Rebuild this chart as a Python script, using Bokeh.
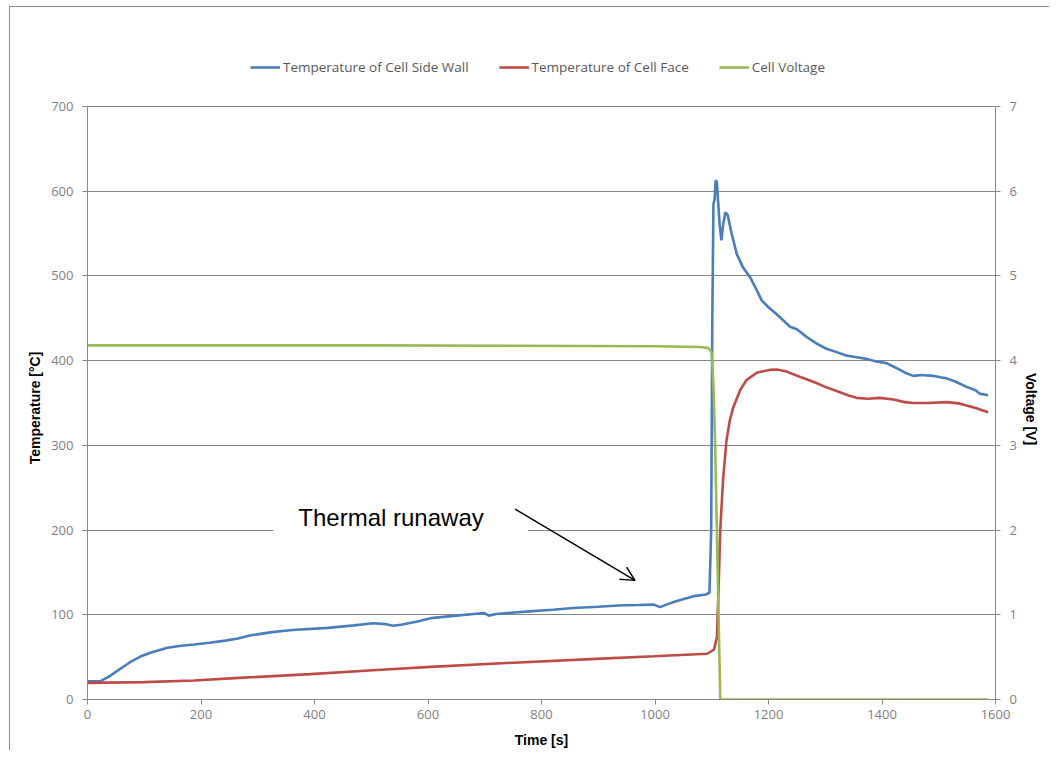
import math
from bokeh.plotting import figure
from bokeh.models import (Range1d, LinearAxis, Legend, LegendItem, Label, Arrow,
                          OpenHead, BoxAnnotation, FixedTicker, InlineStyleSheet)
from bokeh.embed import file_html
from bokeh.resources import INLINE

# ---------------- data ----------------
side_t = [0, 23, 40, 55, 75, 94, 115, 141, 165, 188, 215, 243, 265, 290, 325, 361,
          424, 470, 503, 525, 538, 555, 581, 605, 650, 690, 699, 707, 720, 778, 820,
          856, 900, 935, 970, 998, 1009, 1020, 1037, 1068, 1090, 1096, 1099, 1101,
          1103, 1105, 1107, 1109, 1111, 1114, 1117, 1120, 1124, 1128, 1135, 1144,
          1155, 1167, 1178, 1188, 1200, 1214, 1238, 1250, 1267, 1285, 1302, 1320,
          1337, 1355, 1373, 1390, 1408, 1426, 1440, 1455, 1470, 1490, 1505, 1514,
          1530, 1549, 1565, 1572, 1587]
side_v = [21.6, 21.6, 28, 35, 44, 51, 56, 61, 63.5, 65, 67, 69.5, 72, 76, 79.5, 82,
          84.5, 87.5, 90, 89, 87, 88.5, 92, 96, 99, 101.5, 102, 99, 101, 104, 106,
          108, 109.5, 111, 111.5, 112, 109, 112, 116, 122, 124, 126, 200, 450,
          585, 590, 613, 610, 590, 560, 542, 560, 575, 572, 550, 526,
          510, 499, 485, 471, 463, 455, 440, 437, 428, 420, 414, 410,
          406, 404, 402, 399, 397, 391, 386, 382, 383, 382, 380, 379,
          375, 369, 365, 361, 359]

face_t = [0, 100, 188, 267, 393, 503, 605, 738, 896, 998, 1092, 1104, 1109, 1112,
          1115, 1120, 1126, 1132, 1138, 1150, 1161, 1180, 1202, 1215, 1232, 1255,
          1279, 1300, 1320, 1340, 1355, 1375, 1396, 1420, 1440, 1455, 1480, 1514,
          1535, 1549, 1565, 1587]
face_v = [19.6, 20.5, 22.5, 25.5, 30, 34.5, 38.5, 43, 48, 51, 54, 59, 73, 130,
          200, 260, 306, 330, 345, 365, 377, 386, 389, 389.5, 387, 381,
          375, 369, 364, 359, 356, 355, 356, 354, 351, 350, 350, 351,
          349.5, 347, 344, 339]

volt_t = [0, 500, 1000, 1080, 1093, 1098, 1100, 1103, 1106, 1109, 1112, 1115, 1587]
volt_v = [4.18, 4.18, 4.17, 4.16, 4.15, 4.12, 4.09, 3.7, 3.0, 2.0, 1.0, 0.0, 0.0]

temp_ticks = [0, 100, 200, 300, 400, 500, 600, 700]
volt_ticks = [0, 1, 2, 3, 4, 5, 6, 7]
time_ticks = [0, 200, 400, 600, 800, 1000, 1200, 1400, 1600]

series_names = ["Temperature of Cell Side Wall", "Temperature of Cell Face", "Cell Voltage"]
series_colors = ["#4A7EBB", "#BE4B48", "#98B954"]

# ---------------- layout ----------------
W, H = 1049, 750
FRAME_TOP, FRAME_BOTTOM = 46, 700          # frame reaches up to hold the legend
AXIS_TOP = 106                              # where 700 / 7 V sit
T_MAX, V_MAX = 700, 7
scale = (FRAME_BOTTOM - FRAME_TOP) / (FRAME_BOTTOM - AXIS_TOP)
t_hi = T_MAX * scale
v_hi = V_MAX * scale
NB = "\u00a0"  # keeps the axis titles centred on the 0..700 span rather than the taller frame

p = figure(width=W, height=H, output_backend="svg", toolbar_location=None,
           x_range=Range1d(0, 1600), y_range=Range1d(0, t_hi),
           min_border_left=87, min_border_right=53, min_border_top=FRAME_TOP,
           min_border_bottom=H - FRAME_BOTTOM)
p.extra_y_ranges = {"volt": Range1d(0, v_hi)}
p.background_fill_color = "white"
p.border_fill_color = "white"
p.outline_line_color = None

# outer chart-area border: only its left and top edges fall inside the picture
p.stylesheets = [InlineStyleSheet(css="""
:host { position: relative; }
:host::after { content: ""; position: absolute; left: 9px; top: 6px; right: 0; bottom: 0;
  border-left: 1px solid #8c8c8c; border-top: 1px solid #8c8c8c;
  pointer-events: none; z-index: 10; }
""")]

GRID = "#878787"
TICKLBL = "#808080"
TICKFONT = "Open Sans"

p.xgrid.visible = False
p.ygrid.ticker = FixedTicker(ticks=temp_ticks)
p.ygrid.grid_line_color = GRID
p.ygrid.grid_line_width = 1


def style_axis(ax, ticks):
    ax.ticker = FixedTicker(ticks=ticks)
    ax.axis_line_color = GRID
    ax.major_tick_line_color = GRID
    ax.major_tick_out = 5
    ax.major_tick_in = 0
    ax.minor_tick_line_color = None
    ax.major_label_text_color = TICKLBL
    ax.major_label_text_font = TICKFONT
    ax.major_label_text_font_size = "13px"
    ax.major_label_standoff = 9
    ax.axis_label_text_font = "Liberation Sans"
    ax.axis_label_text_font_style = "bold"
    ax.axis_label_text_font_size = "14px"
    ax.axis_label_text_color = "black"


style_axis(p.xaxis[0], time_ticks)
p.xaxis[0].axis_label = "Time [s]"
p.xaxis[0].major_label_standoff = 5
p.xaxis[0].axis_label_standoff = 10

style_axis(p.yaxis[0], temp_ticks)
p.yaxis[0].axis_label = "Temperature [°C]" + NB * 18
p.yaxis[0].axis_label_standoff = 5
p.yaxis[0].bounds = (0, T_MAX)

raxis = LinearAxis(y_range_name="volt")
style_axis(raxis, volt_ticks)
raxis.axis_label = "Voltage [V]" + NB * 11
raxis.axis_label_standoff = 11
raxis.bounds = (0, V_MAX)
try:
    raxis.axis_label_orientation = -math.pi / 2
except Exception:
    pass
p.add_layout(raxis, "right")

# ---------------- series ----------------
r1 = p.line(side_t, side_v, line_color=series_colors[0], line_width=2.6)
r2 = p.line(face_t, face_v, line_color=series_colors[1], line_width=2.6)
r3 = p.line(volt_t, volt_v, line_color=series_colors[2], line_width=2.6, y_range_name="volt")

legend = Legend(items=[LegendItem(label=series_names[0], renderers=[r1]),
                       LegendItem(label=series_names[1], renderers=[r2]),
                       LegendItem(label=series_names[2], renderers=[r3])],
                orientation="horizontal", location=(163, 623),
                glyph_width=30, glyph_height=14, label_height=14, label_standoff=3,
                spacing=30, padding=0, margin=0,
                label_text_font=TICKFONT, label_text_font_size="13.5px",
                label_text_color="#595959",
                border_line_alpha=0, background_fill_alpha=0)
p.add_layout(legend)

# ---------------- annotation ----------------
p.add_layout(BoxAnnotation(left=327.5, right=776.4, bottom=188, top=253,
                           fill_color="white", fill_alpha=1, line_color=None))
p.add_layout(Label(x=371.5, y=215.3, text="Thermal runaway", text_font="Liberation Sans",
                   text_font_size="24px", text_color="black", text_align="left",
                   text_baseline="alphabetic"))
p.add_layout(Arrow(x_start=753.5, y_start=224.7, x_end=964.8, y_end=140.6,
                   line_color="black", line_width=1.5,
                   end=OpenHead(size=14, line_color="black", line_width=1.5)))

open("out.html", "w").write(file_html(p, INLINE))
